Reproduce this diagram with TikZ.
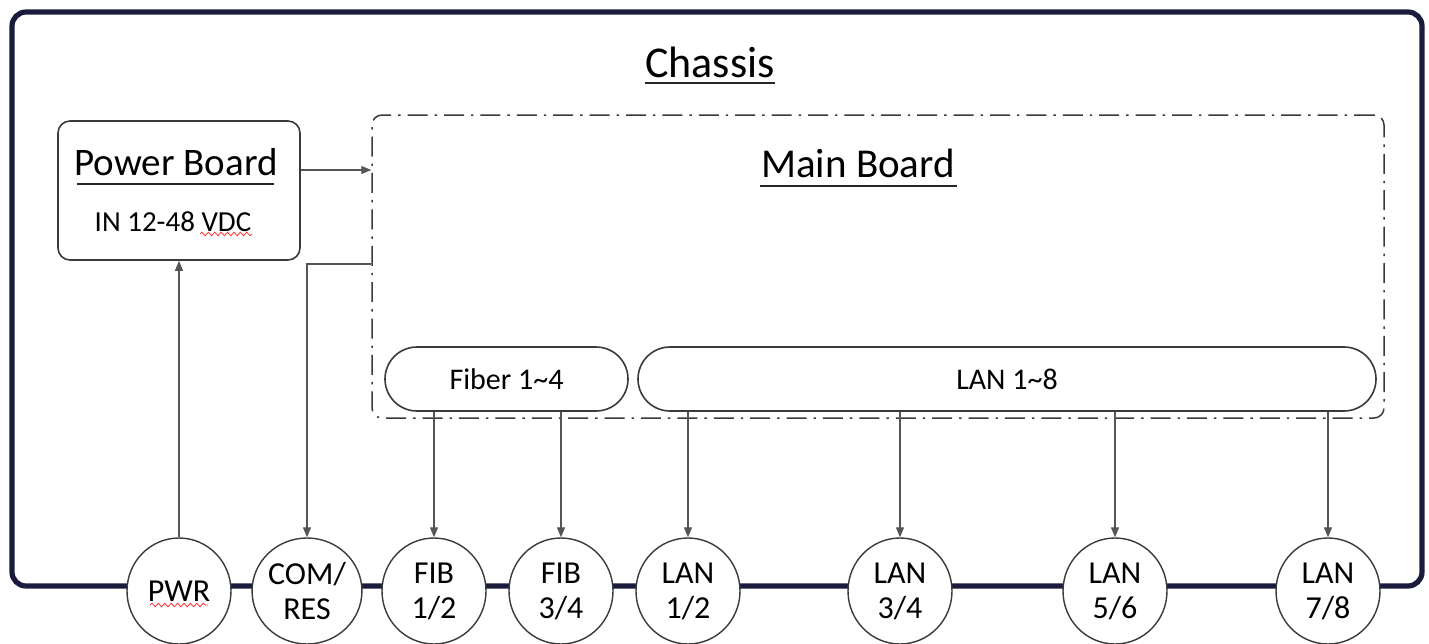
\documentclass[tikz,border=0pt]{standalone}
\usepackage{fontspec}
\setmainfont{Carlito}
\usetikzlibrary{arrows.meta,shapes.geometric,decorations.pathmorphing}
\definecolor{navy}{HTML}{1B1B3E}
\definecolor{edge}{HTML}{3A3A3A}
\definecolor{conn}{HTML}{555555}
\begin{document}
\begin{tikzpicture}[x=0.5pt,y=-0.5pt,
  chassisbox/.style={draw=navy,line width=2.6pt,rounded corners=7pt,minimum width=705pt,minimum height=287pt,inner sep=0pt},
  boardbox/.style={draw=edge,line width=0.8pt,rounded corners=6pt,minimum width=121pt,minimum height=69.5pt,inner sep=0pt},
  mainbox/.style={draw=edge,line width=0.75pt,rounded corners=5pt,minimum width=506pt,minimum height=151.5pt,inner sep=0pt,
    dash pattern=on 10pt off 3.5pt on 1.2pt off 3.5pt},
  pill/.style={draw=edge,line width=0.8pt,rounded corners=16pt,minimum height=32pt,inner sep=0pt,font=\fontsize{15}{18}\selectfont},
  port/.style={draw=edge,fill=white,line width=0.7pt,ellipse,minimum width=52pt,minimum height=53pt,inner sep=0pt,align=center,font=\fontsize{16}{17.5}\selectfont},
  title/.style={inner sep=0pt},
  uline/.style={draw=black!85,line width=1.1pt},
  arr/.style={draw=conn,line width=0.6pt,-{Triangle[length=5pt,width=4pt]}},
  squig/.style={draw=red!80,line width=0.4pt,decorate,decoration={snake,segment length=3.2pt,amplitude=0.9pt}}
]
\useasboundingbox (0,0) rectangle (1429,643);
% chassis
\node[chassisbox] (chassis) at (717,299) {};
\node[title,font=\fontsize{22}{24}\selectfont] (chtitle) at (710,62) {Chassis};
\draw[uline] (645,83) -- (775,83);
% power board
\node[boardbox] (pb) at (179,190.5) {};
\node[title,font=\fontsize{19.5}{22}\selectfont] (pbtitle) at (176,162) {Power Board};
\draw[uline] (77,184) -- (274,184);
\node[title,font=\fontsize{14.5}{16}\selectfont] (pbin) at (173,222) {IN 12-48 VDC};
\draw[squig] (200,234) -- (252,234);
% main board
\node[mainbox] (mb) at (878,266.5) {};
\node[title,font=\fontsize{20.5}{22}\selectfont] (mbtitle) at (858,163) {Main Board};
\draw[uline] (760,186) -- (957,186);
% pills
\node[pill,minimum width=121.5pt] (fib) at (506.5,379) {Fiber 1\textasciitilde 4};
\node[pill,minimum width=369pt] (lan) at (1007,379) {LAN 1\textasciitilde 8};
% ports
\node[port] (pwr) at (179,591) {PWR};
\draw[squig] (150,605) -- (208,605);
\node[port] (com) at (307,591) {COM/\\RES};
\node[port] (f12) at (434,591) {FIB\\1/2};
\node[port] (f34) at (561,591) {FIB\\3/4};
\node[port] (l12) at (688,591) {LAN\\1/2};
\node[port] (l34) at (900,591) {LAN\\3/4};
\node[port] (l56) at (1115,591) {LAN\\5/6};
\node[port] (l78) at (1328,591) {LAN\\7/8};
% connectors
\path ([yshift=10.25pt]pb.east) coordinate (pbout);
\draw[arr] (pbout) -- (pbout -| mb.west);
\path ([yshift=1.25pt]mb.west) coordinate (mbcom);
\draw[arr] (mbcom) -| (com.north);
\draw[arr] (pwr.north) -- (pwr.north |- pb.south);
\draw[arr] (fib.south -| f12.north) -- (f12.north);
\draw[arr] (fib.south -| f34.north) -- (f34.north);
\draw[arr] (lan.south -| l12.north) -- (l12.north);
\draw[arr] (lan.south -| l34.north) -- (l34.north);
\draw[arr] (lan.south -| l56.north) -- (l56.north);
\draw[arr] (lan.south -| l78.north) -- (l78.north);
\end{tikzpicture}
\end{document}
